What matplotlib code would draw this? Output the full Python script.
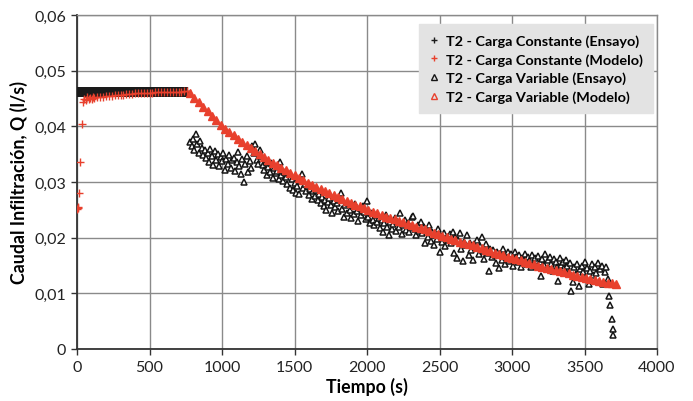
"""
Caudal de infiltración vs tiempo, ensayo T2 (carga constante y variable).
"""

import matplotlib
matplotlib.use("Agg")
import matplotlib.pyplot as plt
import numpy as np
from matplotlib.ticker import FixedLocator, FuncFormatter

# --- Carga constante (ensayo): tramo plano hasta ~760 s
t_const_ensayo = [0, 10, 20, 30, 40, 50, 60, 70, 80, 90, 100, 110, 120, 130, 140, 150,
                  160, 170, 180, 190, 200, 210, 220, 230, 240, 250, 260, 270, 280, 290,
                  300, 310, 320, 330, 340, 350, 360, 370, 380, 390, 400, 410, 420, 430,
                  440, 450, 460, 470, 480, 490, 500, 510, 520, 530, 540, 550, 560, 570,
                  580, 590, 600, 610, 620, 630, 640, 650, 660, 670, 680, 690, 700, 710,
                  720, 730, 740, 750, 760]
q_const_ensayo_level = 0.0461

# --- Carga constante (modelo)
t_const_modelo = [3, 6, 8, 14, 24, 34, 42, 50, 60, 70, 80, 90, 100, 110, 120, 140, 160,
                  180, 200, 220, 240, 260, 280, 300, 320, 340, 360, 380, 400, 420, 440,
                  460, 480, 500, 520, 540, 560, 580, 600, 620, 640, 660, 680, 700, 720,
                  740, 760]
q_const_modelo = [0.0252, 0.0255, 0.0253, 0.0280, 0.0336, 0.0405, 0.0443, 0.0450, 0.0448,
                  0.0452, 0.0449, 0.0451, 0.0450, 0.0452, 0.0451, 0.0452, 0.0453, 0.0453,
                  0.0454, 0.0455, 0.0455, 0.0456, 0.0456, 0.0457, 0.0457, 0.0458, 0.0458,
                  0.0458, 0.0459, 0.0459, 0.0459, 0.0460, 0.0460, 0.0460, 0.0460, 0.0461,
                  0.0461, 0.0461, 0.0461, 0.0461, 0.0462, 0.0462, 0.0462, 0.0462, 0.0462,
                  0.0463, 0.0463]

# --- Carga variable (ensayo): muestras cada 10 s desde 780 s
t_var_ensayo_start = 780
q_var_ensayo = [
    0.0372, 0.0365, 0.0378, 0.0357, 0.0386, 0.0369, 0.0352, 0.0374, 0.0361, 0.0348,
    0.0358, 0.0343, 0.0352, 0.0336, 0.0360, 0.0347, 0.0331, 0.0355, 0.0340, 0.0350,
    0.0328, 0.0345, 0.0337, 0.0352, 0.0322, 0.0341, 0.0333, 0.0348, 0.0326, 0.0339,
    0.0344, 0.0320, 0.0336, 0.0354, 0.0329, 0.0315, 0.0341, 0.0300, 0.0332, 0.0347,
    0.0318, 0.0338, 0.0325, 0.0364, 0.0352, 0.0368, 0.0340, 0.0333, 0.0357, 0.0346,
    0.0330, 0.0322, 0.0336, 0.0312, 0.0327, 0.0318, 0.0334, 0.0308, 0.0325, 0.0316,
    0.0320, 0.0305, 0.0336, 0.0313, 0.0302, 0.0318, 0.0309, 0.0296, 0.0314, 0.0290,
    0.0305, 0.0286, 0.0298, 0.0281, 0.0293, 0.0278, 0.0301, 0.0314, 0.0289, 0.0296,
    0.0284, 0.0292, 0.0277, 0.0288, 0.0270, 0.0283, 0.0274, 0.0286, 0.0268, 0.0279,
    0.0262, 0.0273, 0.0256, 0.0268, 0.0250, 0.0264, 0.0271, 0.0258, 0.0245, 0.0266,
    0.0255, 0.0262, 0.0248, 0.0268, 0.0280, 0.0252, 0.0238, 0.0259, 0.0245, 0.0263,
    0.0250, 0.0236, 0.0256, 0.0242, 0.0261, 0.0248, 0.0230, 0.0253, 0.0240, 0.0257,
    0.0246, 0.0234, 0.0265, 0.0238, 0.0226, 0.0244, 0.0231, 0.0222, 0.0240, 0.0228,
    0.0235, 0.0218, 0.0232, 0.0210, 0.0226, 0.0241, 0.0220, 0.0204, 0.0229, 0.0215,
    0.0224, 0.0236, 0.0212, 0.0228, 0.0219, 0.0245, 0.0207, 0.0222, 0.0231, 0.0214,
    0.0226, 0.0210, 0.0220, 0.0237, 0.0239, 0.0216, 0.0205, 0.0223, 0.0212, 0.0228,
    0.0208, 0.0219, 0.0190, 0.0213, 0.0201, 0.0222, 0.0194, 0.0210, 0.0186, 0.0205,
    0.0198, 0.0215, 0.0174, 0.0203, 0.0192, 0.0209, 0.0185, 0.0200, 0.0196, 0.0206,
    0.0190, 0.0211, 0.0172, 0.0201, 0.0163, 0.0195, 0.0209, 0.0180, 0.0158, 0.0193,
    0.0186, 0.0204, 0.0168, 0.0191, 0.0177, 0.0160, 0.0188, 0.0181, 0.0196, 0.0170,
    0.0185, 0.0201, 0.0176, 0.0162, 0.0189, 0.0172, 0.0140, 0.0180, 0.0165, 0.0178,
    0.0168, 0.0155, 0.0174, 0.0146, 0.0170, 0.0160, 0.0179, 0.0152, 0.0166, 0.0175,
    0.0158, 0.0170, 0.0162, 0.0150, 0.0174, 0.0165, 0.0156, 0.0169, 0.0147, 0.0163,
    0.0160, 0.0171, 0.0152, 0.0166, 0.0158, 0.0148, 0.0168, 0.0155, 0.0163, 0.0150,
    0.0167, 0.0157, 0.0131, 0.0162, 0.0151, 0.0170, 0.0144, 0.0159, 0.0165, 0.0153,
    0.0140, 0.0161, 0.0156, 0.0148, 0.0122, 0.0163, 0.0151, 0.0157, 0.0145, 0.0160,
    0.0149, 0.0139, 0.0154, 0.0104, 0.0120, 0.0147, 0.0135, 0.0152, 0.0113, 0.0143,
    0.0150, 0.0138, 0.0156, 0.0128, 0.0146, 0.0117, 0.0141, 0.0153, 0.0133, 0.0148,
    0.0137, 0.0155, 0.0121, 0.0144, 0.0150, 0.0116, 0.0139, 0.0147, 0.0126,
]
# caída final del ensayo
t_var_ensayo_tail = [3671, 3676, 3688, 3694, 3699]
q_var_ensayo_tail = [0.0095, 0.0079, 0.0054, 0.0036, 0.0026]

# --- Carga variable (modelo): cada 30 s desde 780 s
t_var_modelo_start = 780
q_var_modelo = [
    0.0459, 0.0451, 0.0443, 0.0435, 0.0427, 0.0419, 0.0411, 0.0403, 0.0396, 0.0390,
    0.0384, 0.0378, 0.0372, 0.0366, 0.0361, 0.0355, 0.0350, 0.0345, 0.0340, 0.0335,
    0.0330, 0.0325, 0.0321, 0.0316, 0.0312, 0.0307, 0.0303, 0.0299, 0.0295, 0.0291,
    0.0287, 0.0283, 0.0280, 0.0276, 0.0273, 0.0269, 0.0266, 0.0262, 0.0259, 0.0256,
    0.0253, 0.0250, 0.0247, 0.0244, 0.0241, 0.0238, 0.0236, 0.0233, 0.0230, 0.0228,
    0.0225, 0.0223, 0.0220, 0.0218, 0.0215, 0.0212, 0.0209, 0.0206, 0.0203, 0.0201,
    0.0198, 0.0196, 0.0193, 0.0191, 0.0188, 0.0186, 0.0183, 0.0181, 0.0178, 0.0176,
    0.0173, 0.0171, 0.0168, 0.0166, 0.0163, 0.0161, 0.0159, 0.0157, 0.0154, 0.0152,
    0.0150, 0.0148, 0.0146, 0.0144, 0.0142, 0.0140, 0.0138, 0.0136, 0.0133, 0.0131,
    0.0129, 0.0127, 0.0126, 0.0124, 0.0122, 0.0121, 0.0119, 0.0118, 0.0116,
]

labels = [
    "T2 - Carga Constante (Ensayo)",
    "T2 - Carga Constante (Modelo)",
    "T2 - Carga Variable (Ensayo)",
    "T2 - Carga Variable (Modelo)",
]
x_ticks = [0, 500, 1000, 1500, 2000, 2500, 3000, 3500, 4000]
y_ticks = [0, 0.01, 0.02, 0.03, 0.04, 0.05, 0.06]

RED = "#e8402d"
GRID = "#8a8a8a"

plt.rcParams.update({
    "font.family": ["Lato", "DejaVu Sans"],
    "font.size": 11,
})

fig = plt.figure(figsize=(6.93, 4.02), dpi=100)
ax = fig.add_axes([77 / 693, 1 - 350 / 402, 580 / 693, 334 / 402])

t_ce = np.asarray(t_const_ensayo)
ax.plot(t_ce, np.full(len(t_ce), q_const_ensayo_level), ls="none", marker="+",
        ms=6.5, mew=1.6, color="#1a1a1a", label=labels[0], zorder=3)
ax.plot(t_const_modelo, q_const_modelo, ls="none", marker="+",
        ms=6, mew=1.0, color=RED, label=labels[1], zorder=4)

t_ve = t_var_ensayo_start + 10 * np.arange(len(q_var_ensayo))
ax.plot(np.concatenate([t_ve, t_var_ensayo_tail]),
        np.concatenate([q_var_ensayo, q_var_ensayo_tail]),
        ls="none", marker="^", ms=4.8, mew=1.1, mfc="white", mec="#151515",
        label=labels[2], zorder=5)

t_vm = t_var_modelo_start + 30 * np.arange(len(q_var_modelo))
ax.plot(t_vm, q_var_modelo, ls="none", marker="^", ms=5.8, mew=1.0,
        mfc=RED, mec=RED, label=labels[3], zorder=6)

ax.set_xlim(0, 4000)
ax.set_ylim(0, 0.06)
ax.xaxis.set_major_locator(FixedLocator(x_ticks))
ax.yaxis.set_major_locator(FixedLocator(y_ticks))
ax.yaxis.set_major_formatter(FuncFormatter(
    lambda v, _: "0" if v == 0 else f"{v:.2f}".replace(".", ",")))
ax.grid(True, color=GRID, lw=1.0)
ax.set_axisbelow(True)
ax.tick_params(direction="out", length=4, width=1, color="#333333",
               labelsize=11.5, labelcolor="#222222", pad=4)

for side in ("top", "right"):
    ax.spines[side].set_color(GRID)
    ax.spines[side].set_linewidth(1.0)
for side in ("left", "bottom"):
    ax.spines[side].set_color("#333333")
    ax.spines[side].set_linewidth(1.3)

ax.set_xlabel("Tiempo (s)", fontsize=12.8, fontweight="bold", labelpad=2)
ax.set_ylabel("Caudal Infiltración, Q (l/s)", fontsize=12.8, fontweight="bold", labelpad=4)

handles, _ = ax.get_legend_handles_labels()
leg = ax.legend(handles, labels, loc="upper right", bbox_to_anchor=(0.993, 0.973),
                borderaxespad=0, frameon=True, fancybox=False, handlelength=0.7,
                handletextpad=0.45, labelspacing=0.42, borderpad=0.7,
                prop={"weight": "bold", "size": 10.4})
leg.get_frame().set_facecolor("#e3e3e3")
leg.get_frame().set_edgecolor("#e3e3e3")
leg.get_frame().set_alpha(1)
for h in leg.legend_handles:
    h.set_markersize(4.5)
    h.set_markeredgewidth(1.0)
    if h.get_marker() == "^":
        h.set_markerfacecolor("none")

fig.savefig("out.png", dpi=100)
